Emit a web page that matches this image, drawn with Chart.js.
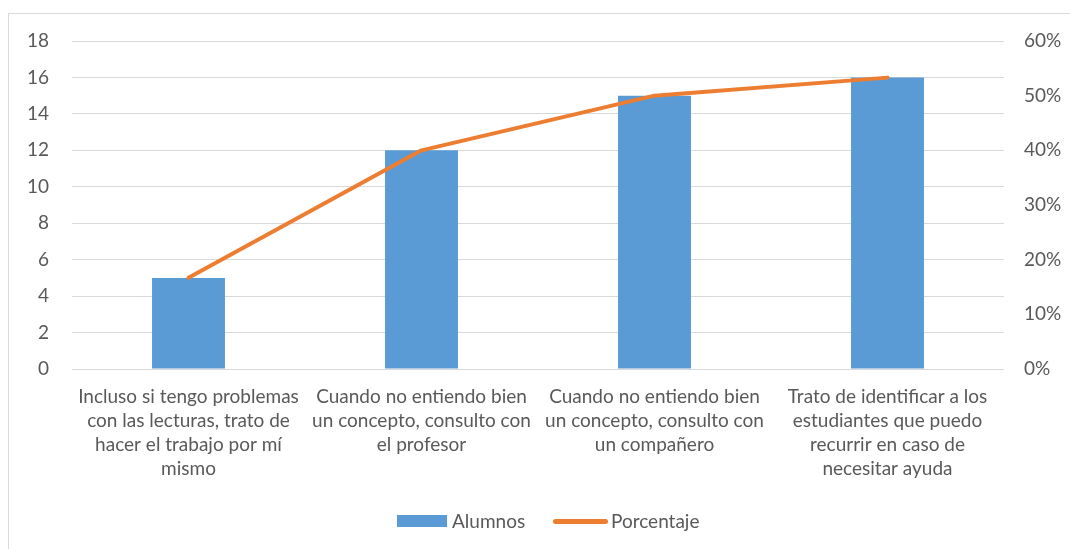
<!DOCTYPE html>
<html><head><meta charset="utf-8">
<script src="https://cdn.jsdelivr.net/npm/chart.js@4"></script>
<style>
html,body{margin:0;padding:0;width:1070px;height:549px;overflow:hidden;background:#fff;font-family:Lato,"Open Sans",sans-serif;}
#frame{position:absolute;left:8px;top:13px;width:1100px;height:600px;border:1px solid #D9D9D9;box-sizing:border-box;}
#wrap{position:absolute;left:0;top:0;width:1070px;height:549px;}
#legend{position:absolute;top:509px;left:0;width:1070px;height:24px;font-size:19px;color:#595959;}
.li{position:absolute;top:0;line-height:24px;}
</style></head>
<body>
<div id="frame"></div>
<div id="wrap"><canvas id="c" width="1070" height="549"></canvas></div>
<div id="legend">
  <div class="li" style="left:397px;top:6px;width:50px;height:12px;background:#5B9BD5"></div>
  <div class="li" style="left:452px;">Alumnos</div>
  <div class="li" style="left:553px;top:10px;width:55px;height:5px;border-radius:3px;background:#ED7D31"></div>
  <div class="li" style="left:611px;">Porcentaje</div>
</div>
<script>
const categories = [
  ["Incluso si tengo problemas","con las lecturas, trato de","hacer el trabajo por mí","mismo"],
  ["Cuando no entiendo bien","un concepto, consulto con","el profesor"],
  ["Cuando no entiendo bien","un concepto, consulto con","un compañero"],
  ["Trato de identificar a los","estudiantes que puedo","recurrir en caso de","necesitar ayuda"]
];
const alumnos = [5, 12, 15, 16];
const porcentaje = [0.167, 0.40, 0.50, 0.533];
const leftTicks = [0, 2, 4, 6, 8, 10, 12, 14, 16, 18];
const rightTicks = [0, 0.1, 0.2, 0.3, 0.4, 0.5, 0.6];

const txt = '#595959';
const grid = '#D9D9D9';
const font = {family: 'Lato, "Open Sans", sans-serif', size: 19};

new Chart(document.getElementById('c'), {
  data: {
    labels: categories,
    datasets: [
      {type: 'line', label: 'Porcentaje', data: porcentaje, yAxisID: 'y2',
       borderColor: '#ED7D31', borderWidth: 4, pointRadius: 0, tension: 0,
       borderCapStyle: 'round', borderJoinStyle: 'round', order: 0},
      {type: 'bar', label: 'Alumnos', data: alumnos, yAxisID: 'y',
       backgroundColor: '#5B9BD5', barPercentage: 0.313, categoryPercentage: 1, order: 1}
    ]
  },
  options: {
    responsive: false, animation: false,
    layout: {padding: {top: 41, bottom: 0, left: 0, right: 0}},
    plugins: {legend: {display: false}, tooltip: {enabled: false}},
    scales: {
      x: {
        offset: true,
        grid: {display: false, drawTicks: false},
        border: {display: false},
        ticks: {color: txt, font: Object.assign({}, font, {lineHeight: 24 / 19}), padding: 16, maxRotation: 0, autoSkip: false},
        afterFit: s => { s.height = 180; }
      },
      y: {
        position: 'left', min: 0, max: 18,
        afterBuildTicks: s => { s.ticks = leftTicks.map(v => ({value: v})); },
        grid: {color: grid, lineWidth: 1, drawTicks: false},
        border: {display: false},
        ticks: {color: txt, font: font, padding: 23},
        afterFit: s => { s.width = 72; }
      },
      y2: {
        position: 'right', min: 0, max: 0.6,
        afterBuildTicks: s => { s.ticks = rightTicks.map(v => ({value: v})); },
        grid: {display: false, drawTicks: false},
        border: {display: false},
        ticks: {color: txt, font: font, padding: 20, callback: v => Math.round(v * 100) + '%'},
        afterFit: s => { s.width = 66; }
      }
    }
  }
});
</script>
</body></html>
